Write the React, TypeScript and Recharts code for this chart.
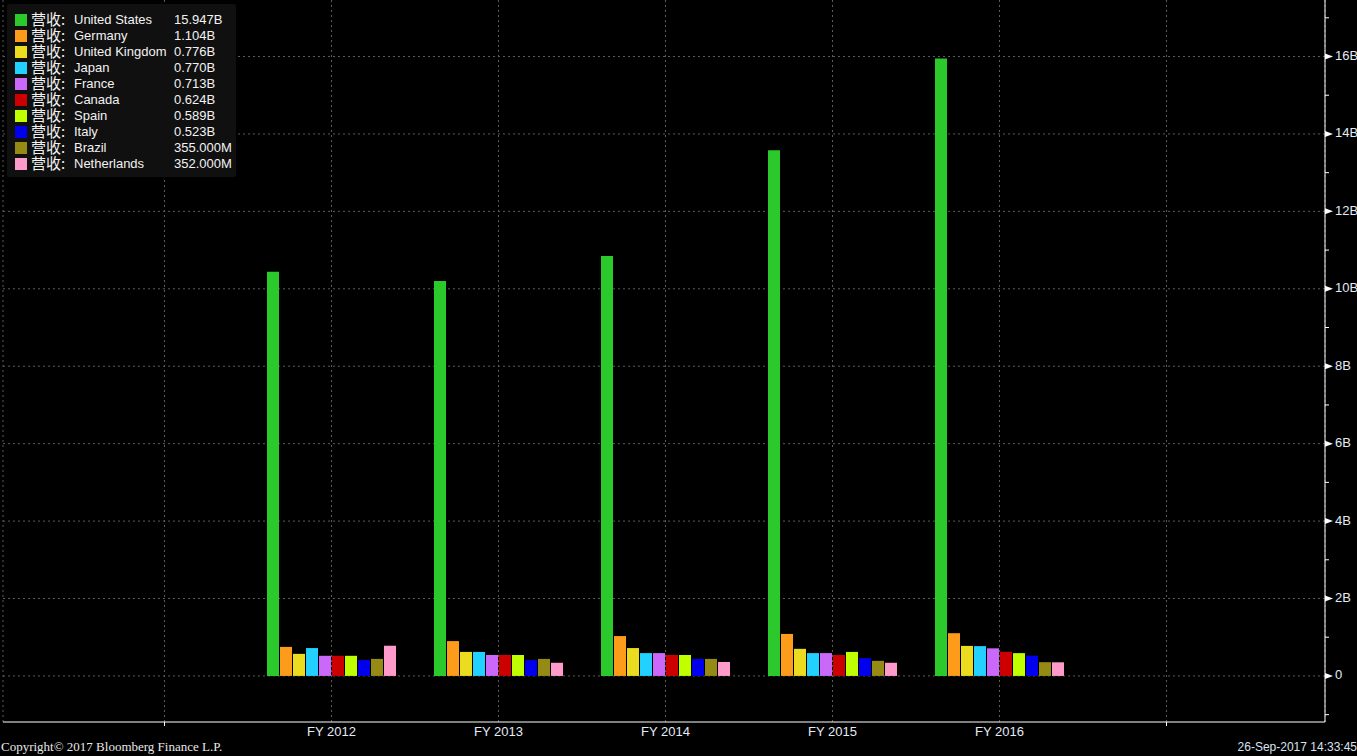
import { Bar, BarChart, CartesianGrid, XAxis, YAxis } from "recharts"

const years = ["FY 2012", "FY 2013", "FY 2014", "FY 2015", "FY 2016"]

const countries = [
  "United States",
  "Germany",
  "United Kingdom",
  "Japan",
  "France",
  "Canada",
  "Spain",
  "Italy",
  "Brazil",
  "Netherlands",
]

const colors = [
  "#2bc92b",
  "#fd9c1b",
  "#ecdc1f",
  "#22d1ff",
  "#ca68fa",
  "#cc0000",
  "#bfff00",
  "#0000ee",
  "#958a13",
  "#ff9bcb",
]

// revenue in billions, one array per country, FY2012..FY2016
const unitedStates = [10.44, 10.2, 10.85, 13.58, 15.947]
const germany = [0.75, 0.9, 1.03, 1.085, 1.104]
const unitedKingdom = [0.57, 0.62, 0.72, 0.7, 0.776]
const japan = [0.72, 0.62, 0.59, 0.59, 0.77]
const france = [0.52, 0.54, 0.59, 0.59, 0.713]
const canada = [0.52, 0.54, 0.54, 0.54, 0.624]
const spain = [0.52, 0.54, 0.54, 0.62, 0.589]
const italy = [0.41, 0.41, 0.44, 0.46, 0.523]
const brazil = [0.44, 0.44, 0.44, 0.39, 0.355]
const netherlands = [0.78, 0.34, 0.36, 0.34, 0.352]

const series = [
  unitedStates,
  germany,
  unitedKingdom,
  japan,
  france,
  canada,
  spain,
  italy,
  brazil,
  netherlands,
]

const yTicks = [-1, 0, 1, 2, 3, 4, 5, 6, 7, 8, 9, 10, 11, 12, 13, 14, 15, 16, 17]
const gridValues = [0, 2, 4, 6, 8, 10, 12, 14, 16]

// empty slots either side give the outer grid lines / ticks
const rows = [
  { year: "pad-l" } as Record<string, string | number>,
  ...years.map((year, i) => {
    const row: Record<string, string | number> = { year }
    countries.forEach((c, k) => {
      row[c] = series[k][i]
    })
    return row
  }),
  { year: "pad-r" } as Record<string, string | number>,
]

const fmtLegend = (v: number) =>
  v >= 0.5 ? `${v.toFixed(3)}B` : `${(v * 1000).toFixed(3)}M`

const textColor = "#e4ebf5"

function XTick(props: any) {
  const { x, y, payload } = props
  const label = String(payload.value)
  if (label.startsWith("pad")) {
    return <line x1={x} y1={y} x2={x} y2={y + 4} stroke="#fff" />
  }
  return (
    <text
      x={x}
      y={y + 11}
      textAnchor="middle"
      dominantBaseline="middle"
      fill={textColor}
      fontSize={13}
      fontFamily="'Liberation Sans', Arial, sans-serif"
    >
      {label}
    </text>
  )
}

function YTick(props: any) {
  const { x, y, payload } = props
  const v = payload.value as number
  if (v % 2 !== 0) {
    return <line x1={x} y1={y} x2={x + 4} y2={y} stroke="#fff" />
  }
  return (
    <g>
      <polygon points={`${x},${y - 3} ${x + 8},${y} ${x},${y + 3}`} fill="#fff" />
      <text
        x={x + 10}
        y={y}
        dominantBaseline="middle"
        fill={textColor}
        fontSize={13}
        fontFamily="'Liberation Sans', Arial, sans-serif"
      >
        {v === 0 ? "0" : `${v}B`}
      </text>
    </g>
  )
}

export default function App() {
  const last = years.length - 1
  return (
    <div
      style={{
        position: "absolute",
        left: 0,
        top: 0,
        width: 1357,
        height: 756,
        background: "#000",
        overflow: "hidden",
      }}
    >
      <BarChart
        width={1357}
        height={756}
        data={rows}
        margin={{ top: 0, right: 0, left: 3, bottom: 0 }}
        barSize={12}
        barGap={1}
      >
        <CartesianGrid
          stroke="#5c5c5c"
          strokeDasharray="2 3"
          horizontalValues={gridValues}
        />
        <XAxis
          dataKey="year"
          height={34}
          padding={{ left: 78, right: 75 }}
          tick={<XTick />}
          tickLine={false}
          tickSize={0}
          tickMargin={0}
          axisLine={{ stroke: "#fff" }}
          interval={0}
        />
        <YAxis
          orientation="right"
          width={32}
          domain={[-1.19, 17.46]}
          ticks={yTicks}
          allowDataOverflow
          tick={<YTick />}
          tickLine={false}
          tickSize={0}
          tickMargin={0}
          axisLine={{ stroke: "#fff" }}
          interval={0}
        />
        {countries.map((c, k) => (
          <Bar key={c} dataKey={c} fill={colors[k]} isAnimationActive={false} />
        ))}
      </BarChart>

      <div
        style={{
          position: "absolute",
          left: 7,
          top: 4,
          width: 229,
          height: 173,
          background: "#101010",
          borderRadius: 2,
          fontFamily: "'Liberation Sans', Arial, sans-serif",
          fontSize: 13,
          color: "#f2f2f2",
        }}
      >
        {countries.map((c, k) => (
          <div key={c} style={{ position: "absolute", left: 0, top: 8 + k * 16, height: 16, width: 229 }}>
            <div
              style={{
                position: "absolute",
                left: 8,
                top: 2,
                width: 12,
                height: 12,
                background: colors[k],
              }}
            />
            <span
              style={{
                position: "absolute",
                left: 24,
                top: -1,
                lineHeight: "16px",
                fontFamily: "'Noto Sans CJK SC', sans-serif",
                fontSize: 15,
                whiteSpace: "nowrap",
              }}
            >
              营收:
            </span>
            <span style={{ position: "absolute", left: 67, top: 0, lineHeight: "16px", whiteSpace: "nowrap" }}>
              {c}
            </span>
            <span style={{ position: "absolute", left: 167, top: 0, lineHeight: "16px", whiteSpace: "nowrap" }}>
              {fmtLegend(series[k][last])}
            </span>
          </div>
        ))}
      </div>

      <div
        style={{
          position: "absolute",
          left: 1,
          top: 739,
          fontFamily: "'Liberation Serif', 'Times New Roman', serif",
          fontSize: 13,
          color: "#e8e8e8",
          whiteSpace: "nowrap",
        }}
      >
        Copyright© 2017 Bloomberg Finance L.P.
      </div>
      <div
        style={{
          position: "absolute",
          right: 0,
          top: 740,
          fontFamily: "'Liberation Sans', Arial, sans-serif",
          fontSize: 12,
          color: "#d8e2f0",
          whiteSpace: "nowrap",
        }}
      >
        26-Sep-2017 14:33:45
      </div>
    </div>
  )
}
